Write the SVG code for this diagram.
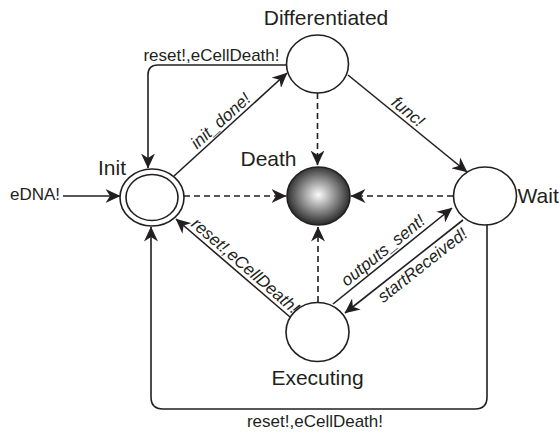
<svg xmlns="http://www.w3.org/2000/svg" width="560" height="432" viewBox="0 0 560 432">
<style>
.node{fill:#fff;stroke:#231f20;stroke-width:1.6}
.name{font-family:"Liberation Sans",Arial,sans-serif;font-size:21px;fill:#231f20}
.lbl{font-family:"Liberation Sans",Arial,sans-serif;font-size:17px;fill:#231f20}
.it{font-style:italic;text-anchor:middle}
.e{fill:none;stroke:#231f20;stroke-width:1.6;marker-end:url(#ah)}
.d{stroke-dasharray:6,4}
</style>
<defs>
<marker id="ah" markerUnits="userSpaceOnUse" markerWidth="15" markerHeight="14" viewBox="0 0 15 14" refX="14.5" refY="7" orient="auto">
<path d="M0,0 L15,7 L0,14 L4.5,7 z" fill="#231f20"/>
</marker>
<radialGradient id="sph" cx="50%" cy="48%" r="55%">
<stop offset="0" stop-color="#fbfbfb"/>
<stop offset="1" stop-color="#1c1c1c"/>
</radialGradient>
</defs>
<g id="connectors">
<path class="e" d="M63,196 L120,196"/>
<path class="e" d="M174,176 L287,73"/>
<path class="e" d="M287,65 H158 Q148,65 148,75 V168"/>
<path class="e d" d="M317.5,93 V165"/>
<path class="e" d="M348,75 L467,172"/>
<path class="e d" d="M184,196 L286,196"/>
<path class="e d" d="M453,196 L351,196"/>
<path class="e d" d="M318,302 V227"/>
<path class="e" d="M290,317 L176,219"/>
<path class="e" d="M333,304 L452,208"/>
<path class="e" d="M463,220 L345,313"/>
<path class="e" d="M487,225 V397 Q487,409 475,409 H163 Q151,409 151,397 V227"/>
<text class="lbl" x="10" y="200">eDNA!</text>
<text class="lbl" x="211.5" y="61" text-anchor="middle">reset!,eCellDeath!</text>
<text class="lbl" x="315" y="427" text-anchor="middle">reset!,eCellDeath!</text>
<text class="lbl it" transform="translate(227,128) rotate(-42)" y="-4">init_done!</text>
<text class="lbl it" transform="translate(402,119) rotate(39.5)" y="-4">func!</text>
<text class="lbl it" transform="translate(239,273) rotate(40.9)" y="-4">reset!,eCellDeath!</text>
<text class="lbl it" transform="translate(389,258) rotate(-38.9)" y="-4">outputs_sent!</text>
<text class="lbl it" transform="translate(416,257) rotate(-38.2)" y="16">startReceived!</text>
</g>
<g id="init">
<ellipse class="node" cx="152" cy="197.5" rx="32" ry="28.5"/>
<ellipse class="node" cx="152" cy="197.5" rx="26" ry="23"/>
<text class="name" x="112" y="175" text-anchor="middle">Init</text>
</g>
<g id="differentiated">
<ellipse class="node" cx="317.5" cy="64" rx="31" ry="29"/>
<text class="name" x="326" y="25" text-anchor="middle">Differentiated</text>
</g>
<g id="death">
<ellipse cx="318.5" cy="196" rx="31.5" ry="29" fill="url(#sph)" stroke="#231f20" stroke-width="1.6"/>
<text class="name" x="268.5" y="166" text-anchor="middle">Death</text>
</g>
<g id="wait">
<ellipse class="node" cx="485" cy="196" rx="31.5" ry="29"/>
<text class="name" x="517.5" y="203">Wait</text>
</g>
<g id="executing">
<ellipse class="node" cx="317.5" cy="332" rx="31.5" ry="29.5"/>
<text class="name" x="317.5" y="385" text-anchor="middle">Executing</text>
</g>
</svg>
